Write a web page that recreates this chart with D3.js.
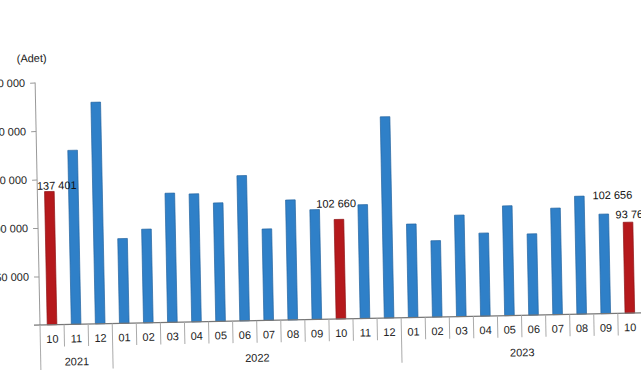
<!DOCTYPE html>
<html><head><meta charset="utf-8">
<script src="https://cdn.jsdelivr.net/npm/d3@7"></script>
<style>html,body{margin:0;padding:0;background:#fff;overflow:hidden}</style>
</head><body>
<svg id="chart" width="641" height="380"></svg>
<script>
const months = ["10","11","12","01","02","03","04","05","06","07","08","09","10","11","12","01","02","03","04","05","06","07","08","09","10"];
const values = [137401,179400,228500,87400,96600,133200,132000,122200,149800,94300,123700,113200,102660,117300,207500,96400,78700,104600,85600,113200,83800,109800,121600,102656,93760];
const highlighted = [0,12,24];
const years = ["2021","2022","2023"];
const yearStarts = [0,3,15];
const yearEnds = [3,15,25];
const yTicks = [50000,100000,150000,200000,250000];
const labelled = [0,12,23,24];
const labelDx = [7.5,-2.5,9,4.5];
const labelDy = [-2,-12,-15,-4];

const svg = d3.select("#chart");
const g = svg.append("g").attr("transform","rotate(-1.15,40,325)");
const font = "'Liberation Sans', Arial, sans-serif";
const fmt = v => d3.format(",")(v).replace(/,/g," ");

const x = d3.scaleBand().domain(d3.range(months.length)).range([40,642]).paddingInner(0).paddingOuter(0);
const y = d3.scaleLinear().domain([0,250000]).range([325,82.5]);
const bw = x.step()*0.4;

// y axis
const yAxis = d3.axisLeft(y).tickValues(yTicks).tickSize(5).tickPadding(5).tickFormat(fmt);
const ya = g.append("g").attr("transform","translate(40,0)").call(yAxis);
ya.select(".domain").attr("stroke","#999").attr("d","M0,325V82.5");
ya.selectAll(".tick line").attr("stroke","#999");
ya.selectAll("text").attr("font-family",font).attr("font-size",11).attr("fill","#222");

g.append("text").attr("x",22).attr("y",62).attr("font-family",font).attr("font-size",11).attr("fill","#222").text("(Adet)");

// bars
g.selectAll("rect.bar").data(values).join("rect")
  .attr("class","bar")
  .attr("x",(d,i)=>x(i)+x.step()/2-bw/2)
  .attr("width",bw)
  .attr("y",d=>y(d))
  .attr("height",d=>y(0)-y(d))
  .attr("fill",(d,i)=>highlighted.includes(i)?"#b5191c":"#2f80c8")
  .attr("stroke",(d,i)=>highlighted.includes(i)?"#8e1215":"#2464a0")
  .attr("stroke-width",0.7);

// x baseline
g.append("line").attr("x1",34).attr("x2",645).attr("y1",y(0)).attr("y2",y(0)).attr("stroke","#777").attr("stroke-width",1.2);

// separators
const seps = d3.range(months.length+1);
g.selectAll("line.sep").data(seps).join("line")
  .attr("class","sep")
  .attr("x1",i=>40+i*x.step()).attr("x2",i=>40+i*x.step())
  .attr("y1",y(0)).attr("y2",i=>yearStarts.includes(i)?370:347)
  .attr("stroke","#aaa").attr("stroke-width",1);

// month labels
g.selectAll("text.m").data(months).join("text")
  .attr("class","m")
  .attr("x",(d,i)=>x(i)+x.step()/2).attr("y",343)
  .attr("text-anchor","middle").attr("font-family",font).attr("font-size",11).attr("fill","#222")
  .text(d=>d);

// year labels
g.selectAll("text.yr").data(years).join("text")
  .attr("class","yr")
  .attr("x",(d,i)=>(40+yearStarts[i]*x.step()+40+yearEnds[i]*x.step())/2)
  .attr("y",366)
  .attr("text-anchor","middle").attr("font-family",font).attr("font-size",11).attr("fill","#222")
  .text(d=>d);

// value labels
g.selectAll("text.val").data(labelled).join("text")
  .attr("class","val")
  .attr("x",(d,k)=>x(d)+x.step()/2+labelDx[k])
  .attr("y",(d,k)=>y(values[d])+labelDy[k])
  .attr("text-anchor","middle").attr("font-family",font).attr("font-size",11).attr("fill","#111")
  .text(d=>fmt(values[d]));
</script>
</body></html>
